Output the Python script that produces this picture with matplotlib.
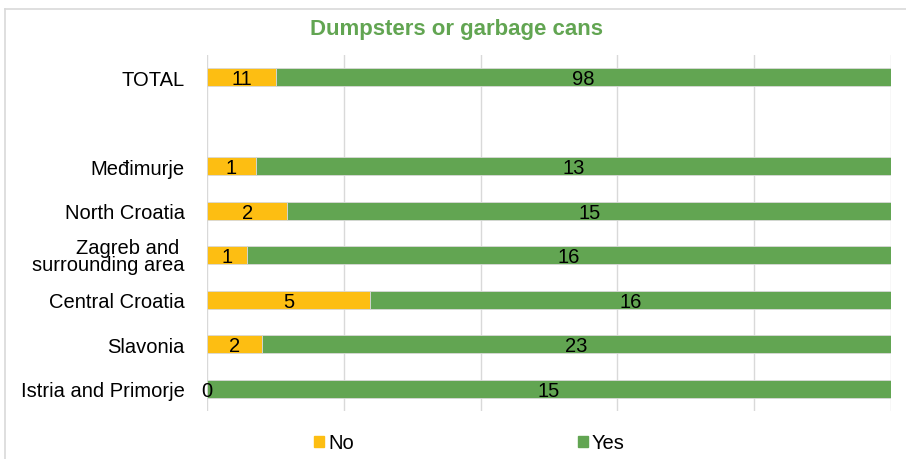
import numpy as np
import matplotlib.pyplot as plt
from matplotlib.patches import Patch
from matplotlib.lines import Line2D

plt.rcParams['font.family'] = ['Liberation Sans', 'DejaVu Sans']

# data (top to bottom as shown)
categories = ["TOTAL", "", "Međimurje", "North Croatia", "Zagreb and \nsurrounding area",
              "Central Croatia", "Slavonia", "Istria and Primorje"]
no_vals = [11, None, 1, 2, 1, 5, 2, 0]
yes_vals = [98, None, 13, 15, 16, 16, 23, 15]

YELLOW = "#FDBE12"
GREEN = "#62A552"
GRID = "#D9D9D9"
FS = 14.5

fig = plt.figure(figsize=(9.06, 4.6), dpi=100)
ax = fig.add_axes([207 / 906, 1 - 412 / 460, 684 / 906, 356 / 460])

n = len(categories)
ypos = np.arange(n)
for i in range(n):
    if no_vals[i] is None:
        continue
    tot = no_vals[i] + yes_vals[i]
    pn = no_vals[i] / tot
    py = yes_vals[i] / tot
    ax.barh(ypos[i], pn, height=0.4, color=YELLOW, edgecolor=GRID, linewidth=0.6, zorder=3)
    ax.barh(ypos[i], py, left=pn, height=0.4, color=GREEN, edgecolor=GRID, linewidth=0.6, zorder=3)
    ax.text(pn / 2, ypos[i] + 0.03, str(no_vals[i]), ha="center", va="center", fontsize=FS, zorder=4)
    ax.text(pn + py / 2, ypos[i] + 0.03, str(yes_vals[i]), ha="center", va="center", fontsize=FS, zorder=4)

ax.set_xlim(0, 1)
ax.set_ylim(n - 0.5, -0.5)
ax.set_xticks(np.linspace(0, 1, 6))
ax.set_xticklabels([])
ax.set_yticks(ypos)
ax.set_yticklabels(categories, fontsize=FS)
for lab in ax.get_yticklabels():
    lab.set_linespacing(0.85)
ax.tick_params(length=0, pad=16)
ax.grid(axis="x", color=GRID, linewidth=1, zorder=0)
for s in ax.spines.values():
    s.set_visible(False)

fig.text(457 / 906, 1 - 30 / 460, "Dumpsters or garbage cans", ha="center", va="center",
         fontsize=16, fontweight="bold", color=GREEN)

handles = [Patch(color=YELLOW), Patch(color=GREEN)]
fig.legend(handles, ["No", "Yes"], ncol=2, frameon=False, fontsize=FS,
           loc="center left", bbox_to_anchor=(296 / 906, 1 - 444 / 460),
           handlelength=0.5, handleheight=0.5, handletextpad=0.2, columnspacing=11.1)

# chart border (top and left visible)
fig.add_artist(Line2D([5 / 906, 1], [1 - 10 / 460] * 2, color=GRID, linewidth=1.2, transform=fig.transFigure))
fig.add_artist(Line2D([5 / 906] * 2, [0, 1 - 10 / 460], color=GRID, linewidth=1.2, transform=fig.transFigure))

fig.savefig("out.png", dpi=100)
